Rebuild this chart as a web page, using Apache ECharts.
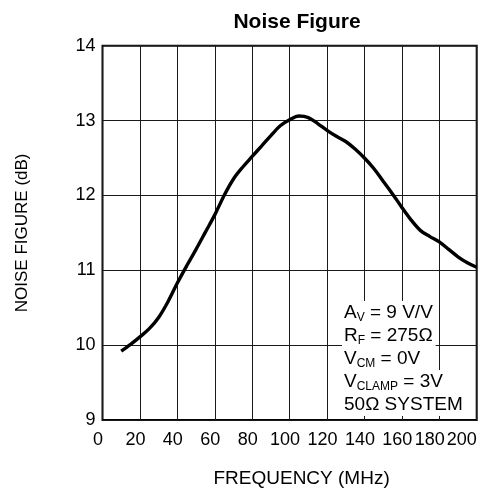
<!DOCTYPE html>
<html>
<head>
<meta charset="utf-8">
<script src="https://cdn.jsdelivr.net/npm/echarts@6/dist/echarts.min.js"></script>
<style>
html,body{margin:0;padding:0;background:#fff;}
#chart{width:492px;height:491px;}
</style>
</head>
<body>
<div id="chart"></div>
<script>
// ---- data ----
var titleText = 'Noise Figure';
var xAxisName = 'FREQUENCY (MHz)';
var yAxisName = 'NOISE FIGURE (dB)';
var freqMHz = [10, 15, 20, 25, 30, 35, 40, 45, 50, 55, 60, 65, 70, 75, 80, 85, 90, 95, 100,
               105, 110, 115, 120, 125, 130, 135, 140, 145, 150, 155, 160, 165, 170, 175, 180,
               185, 190, 195, 200];
var noiseFigure = [9.92, 10.01, 10.11, 10.22, 10.37, 10.58, 10.83, 11.06, 11.28, 11.51, 11.74,
                   12.00, 12.22, 12.38, 12.52, 12.66, 12.80, 12.93, 13.01, 13.06, 13.04, 12.96,
                   12.87, 12.79, 12.72, 12.62, 12.50, 12.36, 12.19, 12.02, 11.84, 11.67, 11.53,
                   11.45, 11.38, 11.28, 11.18, 11.10, 11.04];
var xTicks = [0, 20, 40, 60, 80, 100, 120, 140, 160, 180, 200];
var yTicks = [9, 10, 11, 12, 13, 14];
var conditionLines = [
  '{m|A}{s|V}{m| = 9 V/V}',
  '{m|R}{s|F}{m| = 275\u03A9}',
  '{m|V}{s|CM}{m| = 0V}',
  '{m|V}{s|CLAMP}{m| = 3V}',
  '{m|50\u03A9 SYSTEM}'
];

var FONT = '"Liberation Sans", Arial, Helvetica, sans-serif';
var chart = echarts.init(document.getElementById('chart'), null, {renderer: 'canvas'});

var seriesData = freqMHz.map(function (f, i) { return [f, noiseFigure[i]]; });

var richText = {
  m: {fontSize: 19, lineHeight: 23, fontFamily: FONT, fill: '#000', color: '#000'},
  s: {fontSize: 12, lineHeight: 16, fontFamily: FONT, fill: '#000', color: '#000', verticalAlign: 'bottom'}
};

var graphics = conditionLines.map(function (t, i) {
  return {
    type: 'text',
    left: 342,
    top: 301 + i * 23,
    z: 100,
    style: {
      text: t,
      rich: richText,
      fontSize: 19,
      fontFamily: FONT,
      fill: '#000',
      backgroundColor: '#fff',
      padding: [0, 3, 0, 2],
      lineHeight: 23
    }
  };
});

var option = {
  backgroundColor: '#fff',
  animation: false,
  title: {
    text: titleText,
    left: 292,
    top: 7,
    textAlign: 'center',
    textStyle: {fontFamily: FONT, fontSize: 21, fontWeight: 'bold', color: '#000'}
  },
  grid: {
    left: 102.5, right: 15.3, top: 45.7, bottom: 71,
    outerBoundsMode: 'none',
    containLabel: false,
    show: true, borderColor: '#000', borderWidth: 2, backgroundColor: 'transparent'
  },
  xAxis: {
    type: 'value',
    min: xTicks[0], max: xTicks[xTicks.length - 1], interval: xTicks[1] - xTicks[0],
    name: xAxisName,
    nameLocation: 'middle',
    nameGap: 49,
    nameTextStyle: {fontFamily: FONT, fontSize: 19, color: '#000', padding: [0, 0, 0, 24]},
    axisLine: {show: false},
    axisTick: {show: false},
    splitLine: {show: true, lineStyle: {color: '#1a1a1a', width: 1}},
    axisLabel: {
      fontFamily: FONT, fontSize: 18, color: '#000', margin: 11,
      alignMaxLabel: 'right',
      formatter: function (v) {
        if (v === 200) return '{e|' + v + '}';
        if (v === 180) return '{w|' + v + '}';
        return '{n|' + v + '}';
      },
      rich: {
        n: {fontFamily: FONT, fontSize: 18, color: '#000', padding: [0, 9, 0, 0]},
        w: {fontFamily: FONT, fontSize: 18, color: '#000', padding: [0, 19, 0, 0]},
        e: {fontFamily: FONT, fontSize: 18, color: '#000'}
      }
    }
  },
  yAxis: {
    type: 'value',
    min: yTicks[0], max: yTicks[yTicks.length - 1], interval: yTicks[1] - yTicks[0],
    name: yAxisName,
    nameLocation: 'middle',
    nameGap: 72,
    nameTextStyle: {fontFamily: FONT, fontSize: 17, color: '#000'},
    axisLine: {show: false},
    axisTick: {show: false},
    splitLine: {show: true, lineStyle: {color: '#1a1a1a', width: 1}},
    axisLabel: {fontFamily: FONT, fontSize: 18, color: '#000', margin: 7}
  },
  series: [{
    type: 'line',
    data: seriesData,
    smooth: 0.35,
    showSymbol: false,
    symbol: 'none',
    lineStyle: {color: '#000', width: 3.4},
    z: 5
  }],
  graphic: graphics
};
chart.setOption(option);
</script>
</body>
</html>
